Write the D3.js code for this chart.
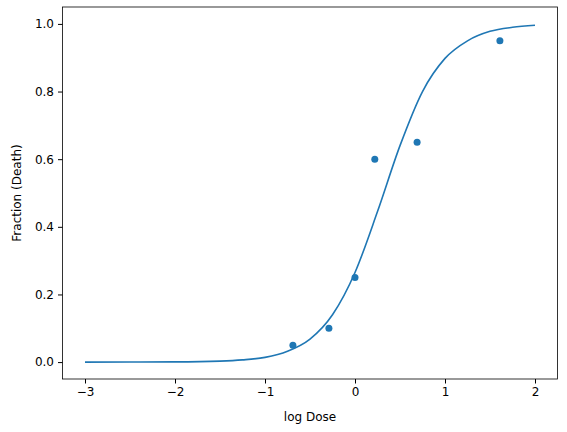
<!DOCTYPE html>
<html><head><meta charset="utf-8">
<script src="https://cdn.jsdelivr.net/npm/d3@7"></script>
<style>body{margin:0;background:#fff}text{font-family:"DejaVu Sans",sans-serif}</style>
</head><body><div id="chart"></div>
<script>
// observed data
let doseX = [-0.69, -0.29, 0, 0.22, 0.69, 1.61];
let deathY = [0.05, 0.10, 0.25, 0.60, 0.65, 0.95];
// fitted curve
let curveX = [-3, -2.5, -2, -1.5, -1.25, -1, -0.75, -0.5, -0.25, 0, 0.25, 0.5, 0.75, 1, 1.25, 1.5, 1.75, 2];
let curveY = [0, 0.0002, 0.0006, 0.003, 0.0066, 0.014, 0.032, 0.068, 0.14, 0.265, 0.445, 0.64, 0.80, 0.898, 0.95, 0.978, 0.99, 0.996];
let xTicks = [-3, -2, -1, 0, 1, 2];
let yTicks = [0, 0.2, 0.4, 0.6, 0.8, 1.0];

let width = 567, height = 432;
let margin = {top: 7, right: 9.5, bottom: 53, left: 62.5};

let svg = d3.select("#chart").append("svg")
  .attr("width", width).attr("height", height);

let x = d3.scaleLinear().domain([-3.25, 2.25]).range([margin.left, width - margin.right]);
let y = d3.scaleLinear().domain([-0.05, 1.05]).range([height - margin.bottom, margin.top]);

//Axes
let xAxis = svg.append("g")
  .attr("transform", "translate(0," + (height - margin.bottom) + ")")
  .call(d3.axisBottom(x).tickValues(xTicks).tickSize(4.5).tickPadding(4)
    .tickFormat(d => d < 0 ? "\u2212" + Math.abs(d) : d));
let yAxis = svg.append("g")
  .attr("transform", "translate(" + margin.left + ",0)")
  .call(d3.axisLeft(y).tickValues(yTicks).tickSize(4.5).tickPadding(4).tickFormat(d3.format(".1f")));
[xAxis, yAxis].forEach(a => {
  a.selectAll("text").attr("font-size", 12).attr("fill", "#000");
  a.select(".domain").remove();
});

//Frame
svg.append("rect")
  .attr("x", margin.left).attr("y", margin.top)
  .attr("width", width - margin.left - margin.right)
  .attr("height", height - margin.top - margin.bottom)
  .attr("fill", "none").attr("stroke", "#000").attr("stroke-width", 0.8);

//Curve
svg.append("path")
  .datum(curveX.map((d, i) => [d, curveY[i]]))
  .attr("fill", "none").attr("stroke", "#1f77b4").attr("stroke-width", 1.6)
  .attr("d", d3.line().x(d => x(d[0])).y(d => y(d[1])).curve(d3.curveMonotoneX));

//Points
svg.append("g").selectAll("circle")
  .data(doseX.map((d, i) => [d, deathY[i]]))
  .enter().append("circle")
  .attr("cx", d => x(d[0])).attr("cy", d => y(d[1])).attr("r", 3.5)
  .attr("fill", "#1f77b4");

//Labels
svg.append("text").attr("x", (margin.left + width - margin.right) / 2).attr("y", 421)
  .attr("text-anchor", "middle").attr("font-size", 12).text("log Dose");
svg.append("text").attr("transform", "translate(21," + ((margin.top + height - margin.bottom) / 2) + ") rotate(-90)")
  .attr("text-anchor", "middle").attr("font-size", 12).text("Fraction (Death)");
</script></body></html>
